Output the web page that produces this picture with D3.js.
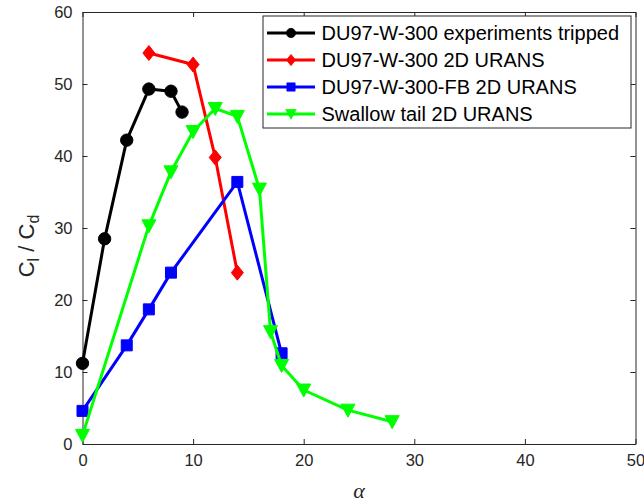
<!DOCTYPE html>
<html>
<head>
<meta charset="utf-8">
<script src="https://cdn.jsdelivr.net/npm/d3@7"></script>
<style>
  body { margin: 0; background: #fff; }
  svg { display: block; font-family: "Liberation Sans", Arial, sans-serif; }
</style>
</head>
<body>
<div id="wrapper"></div>
<script>
// series data
const expAlpha = [0, 2, 4, 6, 8, 9];
const expRatio = [11.2, 28.5, 42.2, 49.3, 49.0, 46.1];

const uransAlpha = [6, 10, 12, 14];
const uransRatio = [54.3, 52.7, 39.8, 23.8];

const fbAlpha = [0, 4, 6, 8, 14, 18];
const fbRatio = [4.6, 13.7, 18.7, 23.8, 36.4, 12.6];

const swallowAlpha = [0, 6, 8, 10, 12, 14, 16, 17, 18, 20, 24, 28];
const swallowRatio = [1.2, 30.3, 37.8, 43.4, 46.6, 45.5, 35.4, 15.6, 10.9, 7.5, 4.7, 3.1];

const seriesNames = [
    "DU97-W-300 experiments tripped",
    "DU97-W-300 2D URANS",
    "DU97-W-300-FB 2D URANS",
    "Swallow tail 2D URANS"
];
const seriesColors = ["#000000", "#ff0000", "#0000ff", "#00ff00"];
const seriesMarkers = ["circle", "diamond", "square", "triangleDown"];

const xTicks = [0, 10, 20, 30, 40, 50];
const yTicks = [0, 10, 20, 30, 40, 50, 60];

function buildPlot() {
    const dimension = {
        width: 644,
        height: 504,
        margin: { top: 12, left: 82.5, bottom: 60, right: 8.5 }
    };
    dimension.boundedWidth = dimension.width - dimension.margin.left - dimension.margin.right;
    dimension.boundedHeight = dimension.height - dimension.margin.top - dimension.margin.bottom;

    const axisColor = "#262626";

    const svg = d3.select("#wrapper").append("svg")
        .attr("width", dimension.width)
        .attr("height", dimension.height);

    const bounded = svg.append("g")
        .attr("transform", `translate(${dimension.margin.left}, ${dimension.margin.top})`);

    const xScaler = d3.scaleLinear().domain([0, 50]).range([0, dimension.boundedWidth]);
    const yScaler = d3.scaleLinear().domain([0, 60]).range([dimension.boundedHeight, 0]);

    // axes, ticks pointing inward, mirrored on top/right
    const styleAxis = g => {
        g.select(".domain").attr("stroke", axisColor).attr("stroke-width", 1);
        g.selectAll(".tick line").attr("stroke", axisColor);
        g.selectAll(".tick text").attr("fill", axisColor).attr("font-size", 16.5)
            .attr("font-family", "Liberation Sans, Arial, sans-serif");
    };

    bounded.append("g")
        .attr("transform", `translate(0, ${dimension.boundedHeight})`)
        .call(d3.axisBottom(xScaler).tickValues(xTicks).tickSizeInner(-5).tickSizeOuter(0).tickPadding(10))
        .call(styleAxis);

    bounded.append("g")
        .call(d3.axisTop(xScaler).tickValues(xTicks).tickSizeInner(-5).tickSizeOuter(0).tickFormat(""))
        .call(styleAxis);

    bounded.append("g")
        .call(d3.axisLeft(yScaler).tickValues(yTicks).tickSizeInner(-5).tickSizeOuter(0).tickPadding(10))
        .call(styleAxis);

    bounded.append("g")
        .attr("transform", `translate(${dimension.boundedWidth}, 0)`)
        .call(d3.axisRight(yScaler).tickValues(yTicks).tickSizeInner(-5).tickSizeOuter(0).tickFormat(""))
        .call(styleAxis);

    const seriesList = [
        { xs: expAlpha, ys: expRatio },
        { xs: uransAlpha, ys: uransRatio },
        { xs: fbAlpha, ys: fbRatio },
        { xs: swallowAlpha, ys: swallowRatio }
    ].map((s, i) => ({
        name: seriesNames[i],
        color: seriesColors[i],
        marker: seriesMarkers[i],
        points: s.xs.map((x, j) => ({ x: x, y: s.ys[j] }))
    }));

    const markerPath = (type) => {
        if (type === "circle") return d3.symbol(d3.symbolCircle, 120)();
        if (type === "square") return "M-5.5,-5.5H5.5V5.5H-5.5Z";
        if (type === "diamond") return "M0,-7.5L6,0L0,7.5L-6,0Z";
        return "M-7,-6H7L0,7Z";
    };

    const lineGen = d3.line()
        .x(d => xScaler(d.x))
        .y(d => yScaler(d.y));

    seriesList.forEach(s => {
        bounded.append("path")
            .attr("d", lineGen(s.points))
            .attr("fill", "none")
            .attr("stroke", s.color)
            .attr("stroke-width", 3)
            .attr("stroke-linejoin", "round");

        bounded.selectAll(null)
            .data(s.points)
            .join("path")
            .attr("transform", d => `translate(${xScaler(d.x)}, ${yScaler(d.y)})`)
            .attr("d", markerPath(s.marker))
            .attr("fill", s.color)
            .attr("stroke", s.color)
            .attr("stroke-width", 1);
    });

    // legend
    const legend = bounded.append("g")
        .attr("transform", `translate(${263 - dimension.margin.left}, ${16 - dimension.margin.top})`);
    legend.append("rect")
        .attr("width", 368).attr("height", 112)
        .attr("fill", "#fff")
        .attr("stroke", axisColor).attr("stroke-width", 1);

    seriesList.forEach((s, i) => {
        const row = legend.append("g").attr("transform", `translate(0, ${17 + i * 27})`);
        row.append("line")
            .attr("x1", 4).attr("x2", 52)
            .attr("stroke", s.color).attr("stroke-width", 3);
        row.append("path")
            .attr("transform", "translate(28, 0) scale(0.75)")
            .attr("d", markerPath(s.marker))
            .attr("fill", s.color).attr("stroke", s.color);
        row.append("text")
            .attr("x", 58.5).attr("y", 7)
            .attr("font-size", 20)
            .attr("fill", "#000")
            .text(s.name);
    });

    // axis labels
    const yLabel = svg.append("text")
        .attr("transform", "translate(34, 246) rotate(-90)")
        .attr("text-anchor", "middle")
        .attr("font-size", 22)
        .attr("fill", axisColor);
    yLabel.append("tspan").text("C");
    yLabel.append("tspan").attr("font-size", 16).attr("dy", 5).text("l");
    yLabel.append("tspan").attr("dy", -5).text(" / C");
    yLabel.append("tspan").attr("font-size", 16).attr("dy", 5).text("d");

    svg.append("text")
        .attr("x", dimension.margin.left + dimension.boundedWidth / 2)
        .attr("y", 498)
        .attr("text-anchor", "middle")
        .attr("font-size", 22)
        .attr("font-style", "italic")
        .attr("font-family", "Liberation Serif, serif")
        .attr("fill", axisColor)
        .text("α");
}

buildPlot();
</script>
</body>
</html>
